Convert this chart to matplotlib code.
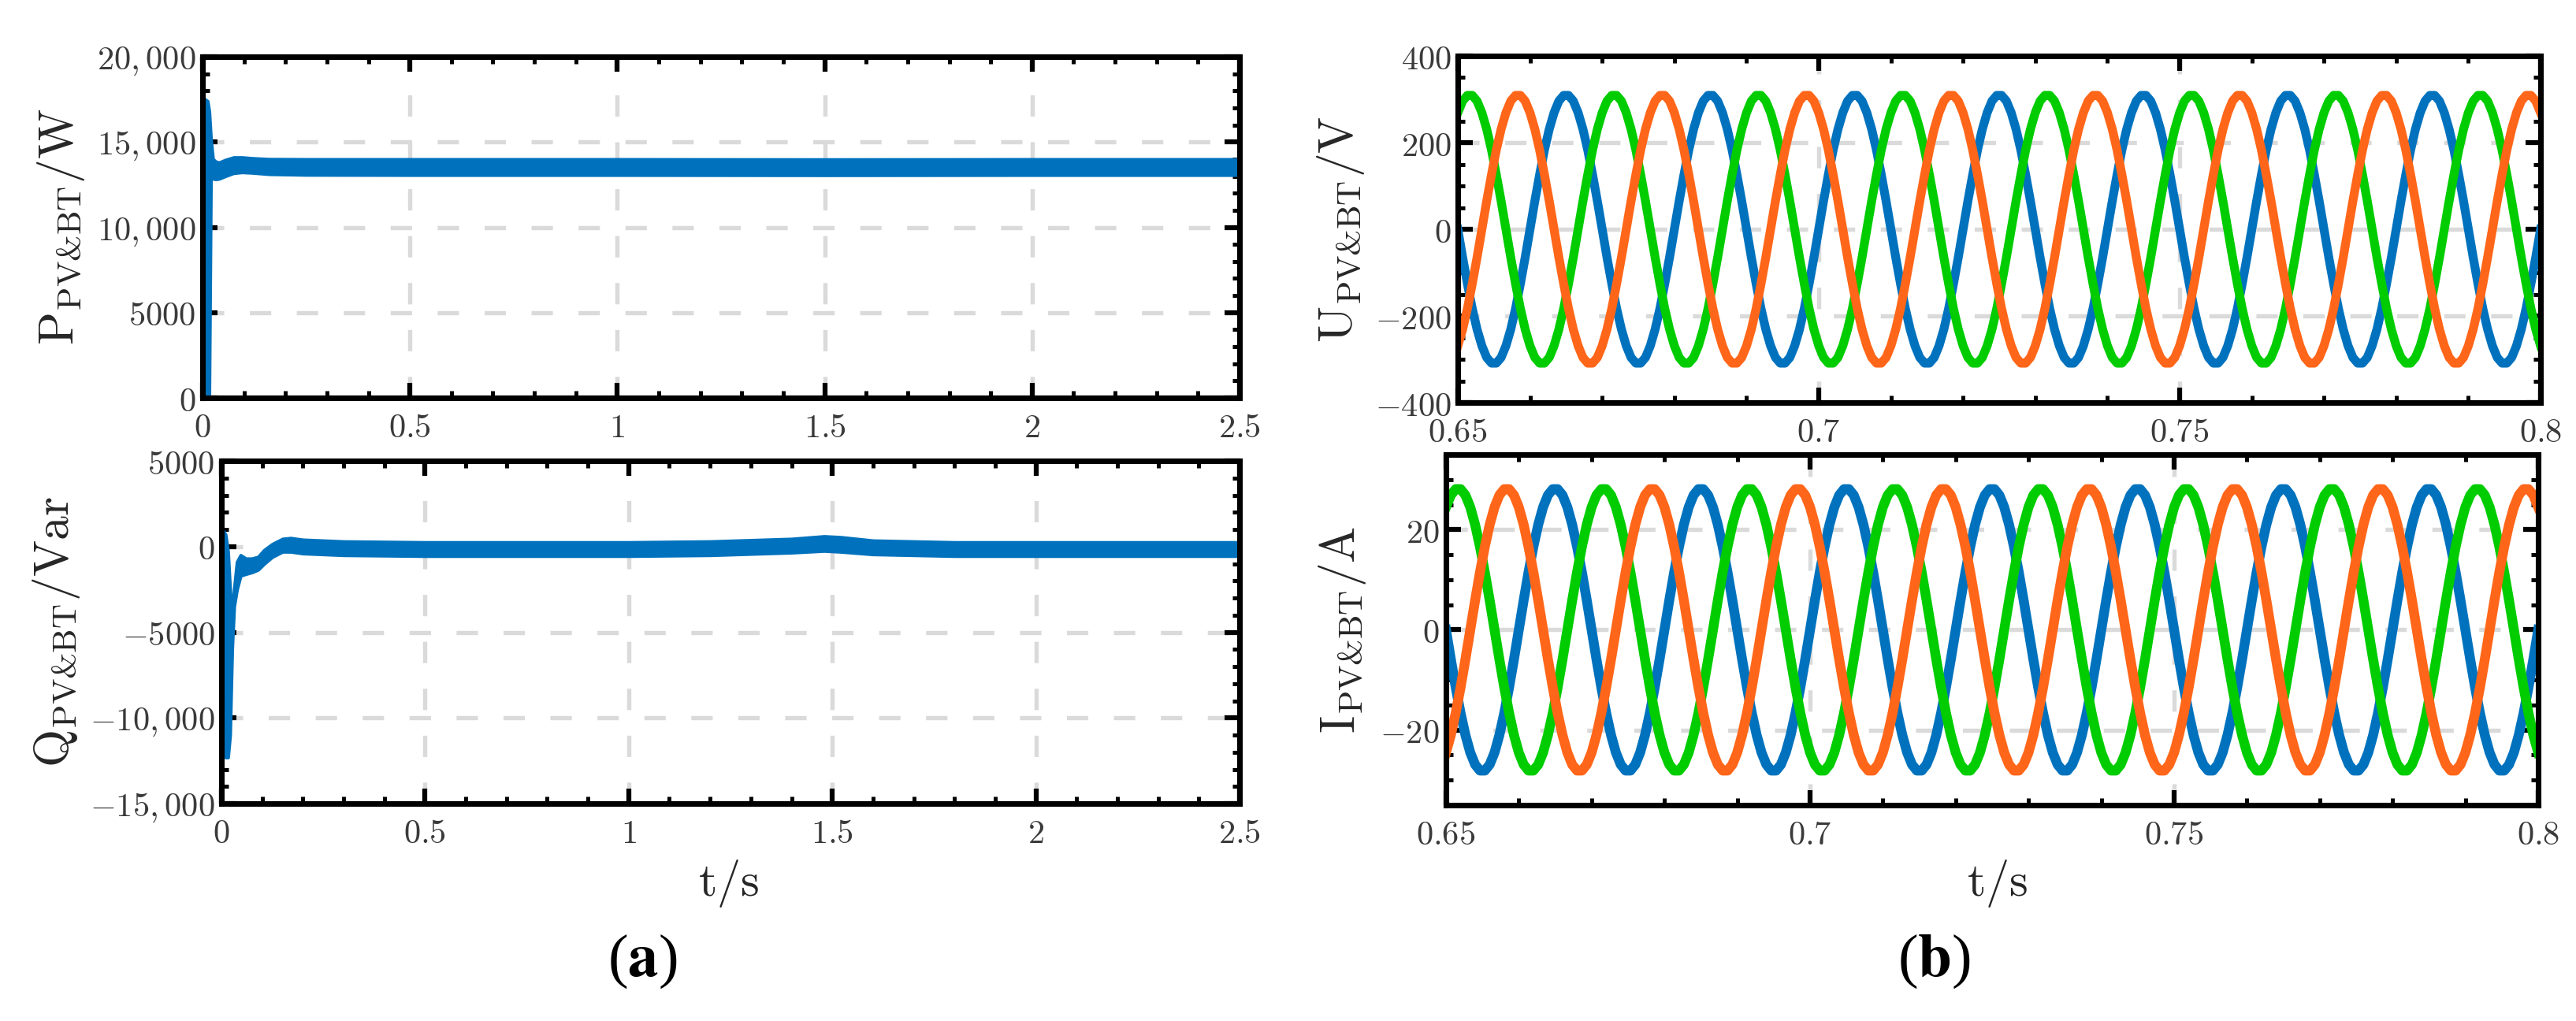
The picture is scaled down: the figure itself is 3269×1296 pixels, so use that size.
import numpy as np
import matplotlib
matplotlib.use("Agg")
import matplotlib.pyplot as plt
from matplotlib.ticker import FixedLocator, FixedFormatter, MultipleLocator

plt.rcParams['mathtext.fontset'] = 'cm'
plt.rcParams['font.family'] = ['DejaVu Serif']

blue = '#0072BD'
orange = '#FF6619'
green = '#00CC00'

### (a) P and Q are thick noisy bands -> keep upper / lower edge of the band
p_t = [0.000, 0.006, 0.012, 0.016, 0.020, 0.025, 0.032, 0.040, 0.055, 0.075, 0.095, 0.120, 0.160,
       0.250, 0.500, 1.000, 1.500, 2.000, 2.500]
p_hi = [17300, 17500, 17400, 16800, 15200, 14000, 13850, 13800, 13950, 14100, 14100, 14050, 14000,
        13990, 13990, 13990, 13980, 13990, 13990]
p_lo = [0, 0, 0, 0, 12900, 12850, 12820, 12850, 13000, 13180, 13230, 13200, 13120,
        13080, 13070, 13070, 13060, 13070, 13070]

q_t = [0.000, 0.005, 0.010, 0.016, 0.021, 0.026, 0.031, 0.038, 0.047, 0.060, 0.075, 0.090,
       0.105, 0.125, 0.150, 0.170, 0.200, 0.300, 0.500, 1.000, 1.200, 1.400, 1.480, 1.520,
       1.600, 1.800, 2.000, 2.500]
q_hi = [900, 900, 700, -300, -2500, -4000, -2500, -900, -500, -700, -700, -600,
        -200, 150, 450, 500, 400, 300, 250, 250, 300, 450, 600, 550,
        350, 250, 250, 250]
q_lo = [-1500, -11000, -12300, -12300, -11000, -6000, -3500, -2500, -1700, -1600, -1500, -1350,
        -1000, -600, -300, -300, -400, -500, -550, -550, -500, -350, -250, -300,
        -450, -550, -550, -550]

### (b) one 50 Hz cycle of phase a, sampled every 1/30 cycle, starting at t = 0.65 s
u_cycle = [0, -65, -126, -183, -231, -269, -296, -309, -309, -296, -269, -231, -183, -126, -65,
           0, 65, 126, 183, 231, 269, 296, 309, 309, 296, 269, 231, 183, 126, 65]
i_cycle = [0, -5.9, -11.5, -16.6, -21.0, -24.5, -26.9, -28.1, -28.1, -26.9, -24.5, -21.0, -16.6, -11.5, -5.9,
           0, 5.9, 11.5, 16.6, 21.0, 24.5, 26.9, 28.1, 28.1, 26.9, 24.5, 21.0, 16.6, 11.5, 5.9]
t_start = 0.65
t_step = 0.02 / 30
n_pts = 226   # 7.5 cycles up to 0.8 s

# tick labels
a_xticks = [0, 0.5, 1, 1.5, 2, 2.5]
a_xlabels = ['$0$', '$0.5$', '$1$', '$1.5$', '$2$', '$2.5$']
b_xticks = [0.65, 0.7, 0.75, 0.8]
b_xlabels = ['$0.65$', '$0.7$', '$0.75$', '$0.8$']
p_yticks = [0, 5000, 10000, 15000, 20000]
p_ylabels = ['$0$', '$5000$', '$10,000$', '$15,000$', '$20,000$']
q_yticks = [-15000, -10000, -5000, 0, 5000]
q_ylabels = ['$-15,000$', '$-10,000$', '$-5000$', '$0$', '$5000$']
u_yticks = [-400, -200, 0, 200, 400]
u_ylabels = ['$-400$', '$-200$', '$0$', '$200$', '$400$']
i_yticks = [-20, 0, 20]
i_ylabels = ['$-20$', '$0$', '$20$']


def style(ax, xt, xl, xmin, yt, yl, ymin):
    ax.xaxis.set_major_locator(FixedLocator(xt))
    ax.xaxis.set_major_formatter(FixedFormatter(xl))
    ax.xaxis.set_minor_locator(MultipleLocator(xmin))
    ax.yaxis.set_major_locator(FixedLocator(yt))
    ax.yaxis.set_major_formatter(FixedFormatter(yl))
    ax.yaxis.set_minor_locator(MultipleLocator(ymin))
    ax.tick_params(which='both', direction='in', top=True, right=True,
                   labelsize=10.2, labelcolor='#3a3a3a', color='black')
    ax.tick_params(which='major', length=4.5, width=1.5)
    ax.tick_params(which='minor', length=2.2, width=1.2)
    ax.tick_params(axis='x', pad=4)
    ax.tick_params(axis='y', pad=2)
    for s in ax.spines.values():
        s.set_linewidth(1.7)
        s.set_color('black')
    ax.set_axisbelow(True)
    ax.grid(True, which='major', color='#dadada', linewidth=1.3, linestyle=(0, (5, 6)))


W, H = 3269, 1296
fig = plt.figure(figsize=(W / 300, H / 300), dpi=300)


def box(l, t, r, b):
    return [l / W, 1 - b / H, (r - l) / W, (b - t) / H]


ax1 = fig.add_axes(box(257, 72, 1573, 505))
ax2 = fig.add_axes(box(281, 585, 1573, 1020))
ax3 = fig.add_axes(box(1850, 71, 3224, 511))
ax4 = fig.add_axes(box(1835, 577, 3221, 1022))

ax1.fill_between(p_t, p_lo, p_hi, color=blue, lw=1.0)
ax1.set_xlim(0, 2.5)
ax1.set_ylim(0, 20000)
style(ax1, a_xticks, a_xlabels, 0.1, p_yticks, p_ylabels, 1000)

ax2.fill_between(q_t, q_lo, q_hi, color=blue, lw=1.0)
ax2.set_xlim(0, 2.5)
ax2.set_ylim(-15000, 5000)
style(ax2, a_xticks, a_xlabels, 0.1, q_yticks, q_ylabels, 1000)

t = t_start + np.arange(n_pts) * t_step
for ax, cyc, lw in [(ax3, u_cycle, 2.7), (ax4, i_cycle, 3.0)]:
    cyc = np.array(cyc)
    ax.plot(t, np.tile(cyc, 8)[:n_pts], color=blue, lw=lw)
    ax.plot(t, np.tile(np.roll(cyc, 10), 8)[:n_pts], color=green, lw=lw)
    ax.plot(t, np.tile(np.roll(cyc, -10), 8)[:n_pts], color=orange, lw=lw)
    ax.set_xlim(0.65, 0.8)
ax3.set_ylim(-400, 400)
style(ax3, b_xticks, b_xlabels, 0.01, u_yticks, u_ylabels, 50)
ax4.set_ylim(-35, 35)
style(ax4, b_xticks, b_xlabels, 0.01, i_yticks, i_ylabels, 5)

# axis titles
lab = dict(rotation=90, ha='center', va='center', fontsize=14.8, color='#262626')
fig.text(78 / W, 1 - 288 / H, r'$\mathrm{P_{PV&BT}/W}$', **lab)
fig.text(72 / W, 1 - 802 / H, r'$\mathrm{Q_{PV&BT}/Var}$', **lab)
fig.text(1701 / W, 1 - 291 / H, r'$\mathrm{U_{PV&BT}/V}$', **lab)
fig.text(1703 / W, 1 - 799 / H, r'$\mathrm{I_{PV&BT}/A}$', **lab)
fig.text(925 / W, 1 - 1122 / H, r'$\mathrm{t/s}$', ha='center', va='center', fontsize=14.5, color='#262626')
fig.text(2535 / W, 1 - 1122 / H, r'$\mathrm{t/s}$', ha='center', va='center', fontsize=14.5, color='#262626')

fig.text(815 / W, 1 - 1220 / H, r'($\mathbf{a}$)', ha='center', va='center', fontsize=18.5,
         family='Liberation Serif', math_fontfamily='stix')
fig.text(2454 / W, 1 - 1220 / H, r'($\mathbf{b}$)', ha='center', va='center', fontsize=18.5,
         family='Liberation Serif', math_fontfamily='stix')

fig.savefig('out.png', dpi=300)
